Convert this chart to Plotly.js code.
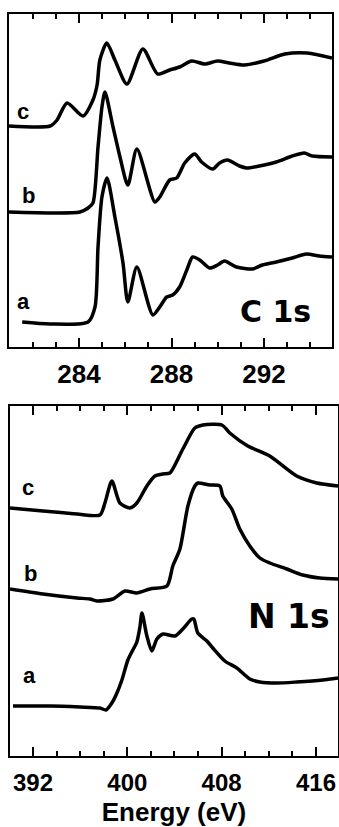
<!DOCTYPE html>
<html>
<head>
<meta charset="utf-8">
<script src="https://cdn.plot.ly/plotly-3.0.1.min.js"></script>
<style>
  html, body { margin: 0; padding: 0; background: #fff; }
  #chart { width: 339px; height: 827px; }
</style>
</head>
<body>
<div id="chart"></div>
<script>
// ---------- C 1s panel (energy in eV, intensity in arb. units incl. stacking offset) ----------
const c1s_a_E = [281.54, 282.75, 284.39, 284.69, 284.82, 284.99, 285.21, 285.55, 285.90, 286.11, 286.50, 287.19, 287.49, 287.79, 288.05, 288.35, 288.66, 288.91, 289.22, 289.65, 289.99, 290.29, 290.81, 291.50, 291.93, 292.53, 293.22, 293.83, 294.39, 294.94];
const c1s_a_I = [25, 23, 25, 40, 100, 150, 169, 130, 84, 45, 80, 32, 40, 50, 52, 60, 77, 90, 87, 79, 82, 86, 80, 78, 82, 85, 89, 93, 91, 90];

const c1s_b_E = [280.97, 284.04, 284.39, 284.60, 284.82, 284.99, 285.12, 285.47, 285.77, 286.11, 286.50, 287.28, 287.49, 287.92, 288.22, 288.57, 289.00, 289.30, 289.78, 290.08, 290.42, 290.94, 291.24, 291.80, 292.53, 293.22, 293.74, 294.09, 294.94];
const c1s_b_I = [135, 135, 139, 144, 200, 240, 255, 220, 190, 162, 198, 145, 150, 167, 169, 184, 193, 185, 178, 184, 187, 181, 179, 181, 185, 191, 194, 191, 190];

const c1s_c_E = [280.97, 282.75, 283.05, 283.48, 284.17, 284.60, 284.78, 284.90, 285.20, 285.55, 286.07, 286.76, 287.40, 287.92, 288.35, 288.87, 289.43, 289.99, 290.50, 291.16, 292.00, 292.90, 293.87, 294.94];
const c1s_c_I = [221, 221, 227, 244, 231, 247, 262, 287, 304, 287, 263, 298, 273, 277, 280, 286, 283, 286, 284, 282, 286, 293, 294, 289];

// ---------- N 1s panel ----------
const n1s_a_E = [390.30, 393.44, 395.98, 397.68, 398.19, 398.69, 399.12, 399.54, 400.05, 400.47, 400.81, 401.07, 401.24, 401.66, 402.08, 402.51, 403.02, 404.03, 404.71, 405.47, 405.64, 405.98, 406.75, 407.25, 408.27, 409.29, 410.39, 411.24, 412.68, 414.37, 416.58, 417.87];
const n1s_a_I = [50, 50, 49, 48, 46, 53, 63, 76, 96, 106, 114, 129, 143, 120, 105, 117, 122, 120, 127, 137, 137, 123, 115, 108, 95, 88, 77, 74, 73, 74, 76, 78];

const n1s_b_E = [390.05, 392.85, 395.73, 396.83, 397.42, 398.78, 399.80, 400.81, 401.92, 403.36, 403.86, 404.46, 405.14, 405.73, 405.98, 407.00, 407.85, 408.10, 408.86, 409.54, 410.39, 411.24, 412.08, 413.53, 414.88, 416.32, 417.87];
const n1s_b_I = [167, 162, 158, 157, 155, 157, 165, 163, 167, 170, 190, 207, 250, 270, 273, 271, 270, 260, 247, 227, 210, 198, 193, 187, 181, 178, 177];

const n1s_c_E = [390.05, 392.85, 395.73, 397.68, 398.10, 398.69, 399.37, 400.22, 400.81, 401.66, 402.34, 403.02, 403.61, 404.71, 405.73, 406.41, 408.02, 408.69, 410.22, 412.08, 414.37, 416.07, 417.87];
const n1s_c_I = [248, 245, 242, 241, 253, 275, 253, 248, 253, 270, 280, 282, 283, 307, 328, 331, 331, 323, 310, 300, 280, 273, 270];

const curveLabels = ['a', 'b', 'c'];
const panelLabels = ['C 1s', 'N 1s'];
const xTitle = 'Energy (eV)';

// ---------- layout helpers ----------
const W = 339, H = 827;
const px = x => x / W;
const py = y => (H - y) / H;

const line = {color: '#000', width: 3.5, shape: 'spline', smoothing: 0.7};
function tr(x, y, xa, ya) {
  return {x: x, y: y, xaxis: xa, yaxis: ya, mode: 'lines', line: line, hoverinfo: 'skip', showlegend: false};
}
const data = [
  tr(c1s_a_E, c1s_a_I, 'x', 'y'),
  tr(c1s_b_E, c1s_b_I, 'x', 'y'),
  tr(c1s_c_E, c1s_c_I, 'x', 'y'),
  tr(n1s_a_E, n1s_a_I, 'x2', 'y2'),
  tr(n1s_b_E, n1s_b_I, 'x2', 'y2'),
  tr(n1s_c_E, n1s_c_I, 'x2', 'y2')
];

function tickFont(size) {
  return {family: 'Liberation Sans, Arial, sans-serif', size: size, color: '#000', weight: 700};
}
function xa(domain, range, tick0, dtick, minorDtick, anchor, standoff, fsize) {
  return {
    domain: domain, range: range, anchor: anchor,
    showline: true, linecolor: '#000', linewidth: 2, mirror: 'ticks',
    ticks: 'inside', ticklen: 9, tickwidth: 2, tickcolor: '#000',
    tick0: tick0, dtick: dtick,
    minor: {ticks: 'inside', ticklen: 5, tickwidth: 2, tickcolor: '#000', dtick: minorDtick, tick0: tick0, showgrid: false},
    showgrid: false, zeroline: false,
    tickfont: tickFont(fsize), ticklabelstandoff: standoff,
    fixedrange: true
  };
}
function ya(domain, range, anchor) {
  return {
    domain: domain, range: range, anchor: anchor,
    showline: true, linecolor: '#000', linewidth: 2, mirror: true,
    ticks: '', showticklabels: false, showgrid: false, zeroline: false, fixedrange: true
  };
}

const xaxis2 = xa([px(10), px(338)], [390.05, 417.87], 392, 8, 2, 'y2', 4, 24);
xaxis2.title = {text: xTitle, font: {family: 'Liberation Sans, Arial, sans-serif', size: 26, color: '#000', weight: 700}, standoff: 16};

const lblFont = {family: 'Liberation Sans, Arial, sans-serif', size: 22, color: '#000', weight: 700};
const panelFont = {family: 'DejaVu Sans, sans-serif', size: 30, color: '#000', weight: 700};
function ann(text, x, y, font) {
  return {text: text, xref: 'paper', yref: 'paper', x: px(x), y: py(y), xanchor: 'center', yanchor: 'middle', showarrow: false, font: font};
}

const layout = {
  width: W, height: H,
  margin: {l: 0, r: 0, t: 0, b: 0},
  paper_bgcolor: '#fff', plot_bgcolor: '#fff',
  showlegend: false,
  xaxis: xa([px(9), px(332)], [280.97, 294.94], 284, 4, 1, 'y', 3, 26),
  yaxis: ya([py(347), py(14)], [0, 333], 'x'),
  xaxis2: xaxis2,
  yaxis2: ya([py(756), py(406)], [0, 350], 'x2'),
  annotations: [
    ann(curveLabels[2], 23, 112, lblFont),
    ann(curveLabels[1], 28, 195, lblFont),
    ann(curveLabels[0], 23.5, 301, lblFont),
    ann(curveLabels[2], 27.5, 487, lblFont),
    ann(curveLabels[1], 30, 573, lblFont),
    ann(curveLabels[0], 29, 675, lblFont),
    ann(panelLabels[0], 275.5, 311, panelFont),
    ann(panelLabels[1], 288.5, 616, Object.assign({}, panelFont, {size: 33}))
  ]
};

Plotly.newPlot('chart', data, layout, {staticPlot: true, displayModeBar: false});
</script>
</body>
</html>
